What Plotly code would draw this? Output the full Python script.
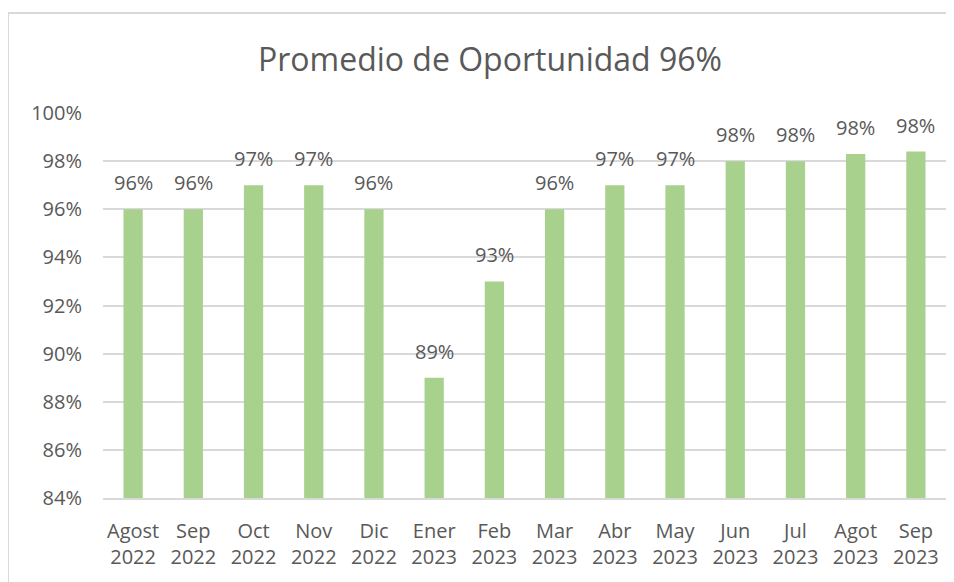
import plotly.graph_objects as go

meses = ["Agost<br>2022", "Sep<br>2022", "Oct<br>2022", "Nov<br>2022", "Dic<br>2022",
         "Ener<br>2023", "Feb<br>2023", "Mar<br>2023", "Abr<br>2023", "May<br>2023",
         "Jun<br>2023", "Jul<br>2023", "Agot<br>2023", "Sep<br>2023"]
oportunidad = [96, 96, 97, 97, 96, 89, 93, 96, 97, 97, 98, 98, 98.3, 98.4]
y_ticks = [84, 86, 88, 90, 92, 94, 96, 98, 100]
y_labels = [f"{v}%" for v in y_ticks]

# la pagina pone 8px de margen al body, se compensa aqui
W, H = 946, 574
L, R, T, B = 95, 8, 105, 84
pw, ph = W - L - R, H - T - B

gris = "#595959"
fuente = "Open Sans"

fig = go.Figure()
fig.add_trace(
    go.Bar(
        x=meses,
        y=oportunidad,
        marker=dict(color="#A9D18E", line=dict(width=0)),
    )
)

# etiquetas de datos un poco separadas de la barra
for mes, val in zip(meses, oportunidad):
    fig.add_annotation(
        x=mes,
        y=val,
        text=f"{val:.0f}%",
        showarrow=False,
        yanchor="bottom",
        yshift=11,
        font=dict(family=fuente, size=20, color=gris),
    )


def px_x(p):
    return (p - L) / pw


def px_y(p):
    return (H - B - p) / ph


# marco gris del grafico
fig.add_shape(type="line", xref="paper", yref="paper",
              x0=px_x(0), x1=px_x(W + 10), y0=px_y(5), y1=px_y(5),
              line=dict(color="#D9D9D9", width=2))
fig.add_shape(type="line", xref="paper", yref="paper",
              x0=px_x(0), x1=px_x(0), y0=px_y(5), y1=px_y(H + 10),
              line=dict(color="#D9D9D9", width=2))

fig.update_layout(
    width=W,
    height=H,
    margin=dict(l=L, r=R, t=T, b=B),
    paper_bgcolor="white",
    plot_bgcolor="white",
    showlegend=False,
    bargap=0.68,
    title=dict(
        text="Promedio de Oportunidad 96%",
        x=(490 - 8) / W,
        xanchor="center",
        y=1 - 52 / H,
        yanchor="middle",
        font=dict(family=fuente, size=32, color=gris),
    ),
    font=dict(family=fuente, color=gris),
)
fig.update_yaxes(
    range=[84, 100],
    tickvals=y_ticks,
    ticktext=y_labels,
    showgrid=True,
    gridcolor="#D9D9D9",
    gridwidth=1.5,
    zeroline=False,
    tickfont=dict(family=fuente, size=20, color=gris),
    ticklabelstandoff=20,
)
fig.update_xaxes(
    showline=True,
    linecolor="#D9D9D9",
    linewidth=1.5,
    tickfont=dict(family=fuente, size=20, color=gris),
    ticklabelstandoff=14,
)

fig.write_html("out.html")
